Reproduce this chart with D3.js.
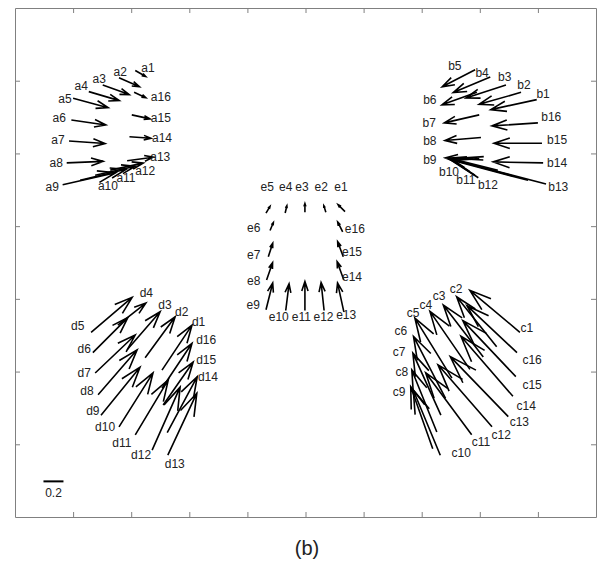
<!DOCTYPE html>
<html lang="en">
<head>
<meta charset="utf-8">
<title>Displacement arrows (b)</title>
<script src="https://d3js.org/d3.v7.min.js"></script>
<style>
  body { margin: 0; background: #fff; }
  text { font-family: "Liberation Sans", Arial, sans-serif; fill: #222; }
</style>
</head>
<body>
<script>
// point ids 1..16 in every group
var ids = d3.range(1, 17);

// group a (top left): tail position, vector (u, v), label position
var aX  = [2.07, 1.79, 1.51, 1.27, 1.00, 0.97, 0.93, 0.89, 0.82, 1.12, 1.38, 1.64, 1.93, 1.97, 2.01, 2.05];
var aY  = [6.14, 6.04, 5.94, 5.85, 5.76, 5.46, 5.17, 4.87, 4.57, 4.63, 4.70, 4.77, 4.90, 5.23, 5.53, 5.84];
var aU  = [0.105, 0.205, 0.265, 0.305, 0.35, 0.345, 0.36, 0.365, 0.53, 0.46, 0.40, 0.33, 0.26, 0.215, 0.183, 0.117];
var aV  = [-0.06, -0.09, -0.095, -0.09, -0.095, -0.05, -0.025, 0.015, 0.12, 0.11, 0.09, 0.07, 0.035, -0.015, -0.04, -0.054];
var aLX = [2.29, 1.81, 1.45, 1.14, 0.86, 0.76, 0.74, 0.71, 0.64, 1.60, 1.91, 2.24, 2.50, 2.53, 2.51, 2.51];
var aLY = [6.18, 6.12, 6.02, 5.93, 5.75, 5.49, 5.19, 4.87, 4.54, 4.55, 4.66, 4.76, 4.95, 5.21, 5.49, 5.78];

// group b (top right)
var bX  = [8.98, 8.71, 8.45, 8.18, 7.92, 7.95, 7.99, 8.02, 8.06, 8.31, 8.57, 8.83, 9.14, 9.09, 9.07, 9.00];
var bY  = [5.74, 5.84, 5.94, 6.05, 6.15, 5.84, 5.53, 5.22, 4.91, 4.77, 4.69, 4.63, 4.58, 4.87, 5.14, 5.42];
var bU  = [-0.46, -0.42, -0.40, -0.37, -0.33, -0.35, -0.35, -0.36, -0.38, -0.48, -0.62, -0.76, -0.97, -0.50, -0.48, -0.46];
var bV  = [-0.10, -0.12, -0.13, -0.155, -0.17, -0.125, -0.08, -0.03, 0.02, 0.12, 0.17, 0.20, 0.25, 0.01, 0.00, -0.03];
var bLX = [9.09, 8.76, 8.43, 8.04, 7.57, 7.14, 7.13, 7.14, 7.14, 7.47, 7.76, 8.14, 9.35, 9.33, 9.33, 9.23];
var bLY = [5.82, 5.94, 6.05, 6.11, 6.20, 5.74, 5.42, 5.17, 4.91, 4.75, 4.64, 4.57, 4.54, 4.87, 5.19, 5.50];

// group c (bottom right)
var cX  = [8.69, 8.29, 8.06, 7.83, 7.52, 7.41, 7.33, 7.26, 7.19, 7.32, 7.86, 8.21, 8.49, 8.57, 8.62, 8.64];
var cY  = [2.54, 2.34, 2.20, 2.03, 1.91, 1.63, 1.40, 1.17, 0.94, 0.85, 1.13, 1.24, 1.38, 1.66, 1.93, 2.26];
var cU  = [-0.50, -0.40, -0.40, -0.40, -0.37, -0.32, -0.28, -0.25, -0.22, -0.27, -0.46, -0.54, -0.58, -0.52, -0.53, -0.50];
var cV  = [0.42, 0.50, 0.52, 0.58, 0.60, 0.62, 0.62, 0.62, 0.62, 0.65, 0.62, 0.62, 0.60, 0.60, 0.56, 0.47];
var cLX = [8.81, 7.59, 7.30, 7.07, 6.85, 6.64, 6.61, 6.66, 6.61, 7.68, 8.02, 8.37, 8.68, 8.80, 8.90, 8.90];
var cLY = [2.60, 3.14, 3.04, 2.92, 2.81, 2.56, 2.27, 1.99, 1.72, 0.88, 1.03, 1.13, 1.31, 1.53, 1.82, 2.16];

// group d (bottom left)
var dX  = [2.53, 2.24, 1.93, 1.77, 1.31, 1.34, 1.38, 1.43, 1.48, 1.79, 2.07, 2.36, 2.63, 2.62, 2.55, 2.53];
var dY  = [2.02, 2.19, 2.30, 2.64, 2.54, 2.26, 1.98, 1.68, 1.40, 1.24, 1.13, 0.92, 0.85, 1.16, 1.54, 1.77];
var dU  = [0.30, 0.30, 0.33, 0.28, 0.41, 0.35, 0.40, 0.39, 0.39, 0.34, 0.33, 0.28, 0.29, 0.30, 0.30, 0.30];
var dV  = [0.45, 0.41, 0.38, 0.22, 0.35, 0.35, 0.38, 0.45, 0.48, 0.54, 0.55, 0.63, 0.62, 0.56, 0.43, 0.45];
var dLX = [3.16, 2.87, 2.58, 2.26, 1.08, 1.19, 1.19, 1.24, 1.34, 1.55, 1.84, 2.17, 2.75, 3.32, 3.29, 3.29];
var dLY = [2.68, 2.82, 2.92, 3.08, 2.63, 2.31, 1.98, 1.73, 1.46, 1.24, 1.02, 0.85, 0.73, 1.93, 2.16, 2.43];

// group e (centre)
var eX  = [5.68, 5.35, 4.99, 4.65, 4.32, 4.39, 4.36, 4.33, 4.32, 4.66, 4.99, 5.32, 5.66, 5.66, 5.65, 5.64];
var eY  = [4.20, 4.19, 4.19, 4.18, 4.18, 3.94, 3.58, 3.26, 2.85, 2.84, 2.84, 2.84, 2.82, 3.26, 3.58, 3.92];
var eU  = [-0.07, -0.02, 0.00, 0.017, 0.04, 0.033, 0.044, 0.06, 0.067, 0.033, 0.00, -0.03, -0.063, -0.067, -0.056, -0.05];
var eV  = [0.07, 0.067, 0.087, 0.073, 0.067, 0.08, 0.134, 0.173, 0.267, 0.267, 0.29, 0.28, 0.29, 0.183, 0.15, 0.10];
var eLX = [5.61, 5.27, 4.94, 4.66, 4.34, 4.11, 4.11, 4.11, 4.10, 4.54, 4.93, 5.31, 5.70, 5.80, 5.80, 5.85];
var eLY = [4.54, 4.54, 4.54, 4.54, 4.54, 3.98, 3.60, 3.25, 2.92, 2.75, 2.75, 2.75, 2.78, 3.30, 3.65, 3.96];

var groups = [
  {name: 'a', x: aX, y: aY, u: aU, v: aV, lx: aLX, ly: aLY},
  {name: 'b', x: bX, y: bY, u: bU, v: bV, lx: bLX, ly: bLY},
  {name: 'c', x: cX, y: cY, u: cU, v: cV, lx: cLX, ly: cLY},
  {name: 'd', x: dX, y: dY, u: dU, v: dV, lx: dLX, ly: dLY},
  {name: 'e', x: eX, y: eY, u: eU, v: eV, lx: eLX, ly: eLY}
];

// scale bar value and caption
var refLength = 0.2;
var refX = 0.49, refY = 0.49;
var caption = '(b)';

// flatten into one row per arrow
var rows = [];
groups.forEach(function (g) {
  ids.forEach(function (id, i) {
    rows.push({label: g.name + id, x: g.x[i], y: g.y[i], u: g.u[i], v: g.v[i], lx: g.lx[i], ly: g.ly[i]});
  });
});

var w = 600, h = 563;
var svg = d3.select('body').append('svg').attr('width', w).attr('height', h);

var xScale = d3.scaleLinear().domain([0, 10]).range([15, 596]);
var yScale = d3.scaleLinear().domain([0, 7]).range([517, 8]);
// arrow length in px per unit of displacement
var arrowScale = d3.scaleLinear().domain([0, refLength]).range([0, 20]);

// frame with inward ticks on all four sides
var xt = d3.range(1, 10), yt = d3.range(1, 7);
function frame(axis, tr) {
  var g = svg.append('g').attr('transform', tr)
    .call(axis.tickSize(-5).tickSizeOuter(0).tickFormat(''));
  g.selectAll('path, line').attr('stroke', '#808080');
}
frame(d3.axisBottom(xScale).tickValues(xt), 'translate(0,517)');
frame(d3.axisTop(xScale).tickValues(xt), 'translate(0,8)');
frame(d3.axisLeft(yScale).tickValues(yt), 'translate(15,0)');
frame(d3.axisRight(yScale).tickValues(yt), 'translate(596,0)');

// quiver-style arrows: shaft + open head (alpha, beta as in matlab quiver)
var alpha = 0.33, beta = 0.33;
function arrowPath(d) {
  var x0 = xScale(d.x), y0 = yScale(d.y);
  var dx = arrowScale(d.u), dy = -arrowScale(d.v);
  var x1 = x0 + dx, y1 = y0 + dy;
  var b1x = x1 - alpha * (dx + beta * dy), b1y = y1 - alpha * (dy - beta * dx);
  var b2x = x1 - alpha * (dx - beta * dy), b2y = y1 - alpha * (dy + beta * dx);
  return 'M' + x0 + ',' + y0 + 'L' + x1 + ',' + y1 +
         'M' + b1x + ',' + b1y + 'L' + x1 + ',' + y1 + 'L' + b2x + ',' + b2y;
}

svg.append('g').selectAll('path')
  .data(rows)
  .enter()
  .append('path')
    .attr('d', arrowPath)
    .attr('fill', 'none')
    .attr('stroke', 'black')
    .attr('stroke-width', 1.6);

// labels
svg.append('g').attr('opacity', 0.999).selectAll('text')
  .data(rows)
  .enter()
  .append('text')
    .attr('x', d => xScale(d.lx))
    .attr('y', d => yScale(d.ly))
    .attr('text-anchor', 'middle')
    .attr('dominant-baseline', 'central')
    .attr('font-size', 12)
    .text(d => d.label);

// reference bar
var rx = xScale(refX), ry = yScale(refY);
svg.append('line')
  .attr('x1', rx).attr('x2', rx + arrowScale(refLength))
  .attr('y1', ry).attr('y2', ry)
  .attr('stroke', 'black').attr('stroke-width', 2);
svg.append('text')
  .attr('x', rx + arrowScale(refLength) / 2).attr('y', ry + 12)
  .attr('text-anchor', 'middle').attr('dominant-baseline', 'central')
  .attr('font-size', 12)
  .text(refLength);

svg.append('text')
  .attr('x', 307).attr('y', 548)
  .attr('text-anchor', 'middle').attr('dominant-baseline', 'central')
  .attr('font-size', 20)
  .text(caption);
</script>
</body>
</html>
